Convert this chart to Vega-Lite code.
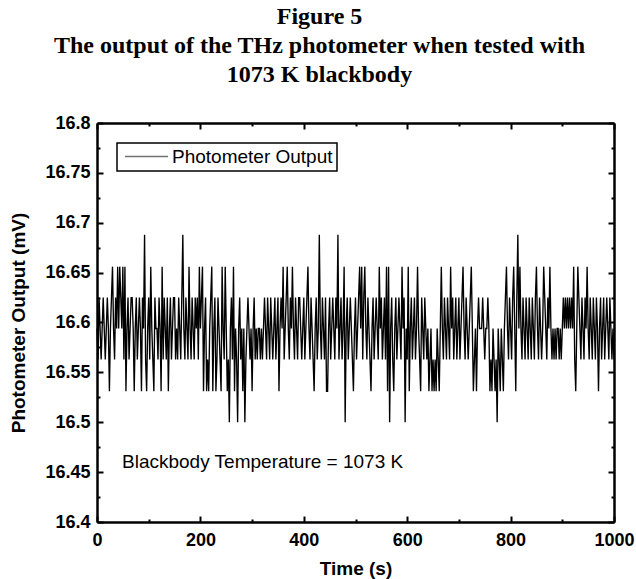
{
"$schema": "https://vega.github.io/schema/vega-lite/v6.json",
"width": 517, "height": 399,
"autosize": "none",
"padding": {"left": 97, "top": 123, "right": 22, "bottom": 57},
"background": "white",
"title": {"text": ["Figure 5", "The output of the THz photometer when tested with", "1073 K blackbody"], "font": "Liberation Serif", "fontSize": 24, "fontWeight": "bold", "lineHeight": 29, "color": "black", "anchor": "middle", "frame": "group", "dx": -36, "baseline": "top", "offset": 27},
"datasets": {
"series": [
{"t":0,"v":16.594},{"t":2,"v":16.563},{"t":4,"v":16.625},{"t":6,"v":16.594},{"t":8,"v":16.563},{"t":10,"v":16.594},{"t":12,"v":16.625},{"t":14,"v":16.594},{"t":16,"v":16.563},{"t":18,"v":16.594},
{"t":20,"v":16.625},{"t":22,"v":16.594},{"t":24,"v":16.531},{"t":26,"v":16.594},{"t":28,"v":16.625},{"t":30,"v":16.656},{"t":32,"v":16.594},{"t":34,"v":16.563},{"t":36,"v":16.625},{"t":38,"v":16.594},
{"t":40,"v":16.656},{"t":42,"v":16.594},{"t":44,"v":16.656},{"t":46,"v":16.625},{"t":48,"v":16.594},{"t":50,"v":16.656},{"t":52,"v":16.563},{"t":54,"v":16.656},{"t":56,"v":16.531},{"t":58,"v":16.594},
{"t":60,"v":16.625},{"t":62,"v":16.563},{"t":64,"v":16.594},{"t":66,"v":16.625},{"t":68,"v":16.625},{"t":70,"v":16.594},{"t":72,"v":16.531},{"t":74,"v":16.594},{"t":76,"v":16.625},{"t":78,"v":16.563},
{"t":80,"v":16.594},{"t":82,"v":16.625},{"t":84,"v":16.594},{"t":86,"v":16.531},{"t":88,"v":16.625},{"t":90,"v":16.594},{"t":92,"v":16.688},{"t":94,"v":16.563},{"t":96,"v":16.531},{"t":98,"v":16.594},
{"t":100,"v":16.625},{"t":102,"v":16.563},{"t":104,"v":16.656},{"t":106,"v":16.594},{"t":108,"v":16.563},{"t":110,"v":16.531},{"t":112,"v":16.625},{"t":114,"v":16.594},{"t":116,"v":16.594},{"t":118,"v":16.563},
{"t":120,"v":16.625},{"t":122,"v":16.594},{"t":124,"v":16.531},{"t":126,"v":16.656},{"t":128,"v":16.563},{"t":130,"v":16.625},{"t":132,"v":16.594},{"t":134,"v":16.563},{"t":136,"v":16.625},{"t":138,"v":16.531},
{"t":140,"v":16.594},{"t":142,"v":16.625},{"t":144,"v":16.563},{"t":146,"v":16.594},{"t":148,"v":16.625},{"t":150,"v":16.625},{"t":152,"v":16.563},{"t":154,"v":16.594},{"t":156,"v":16.563},{"t":158,"v":16.625},
{"t":160,"v":16.594},{"t":162,"v":16.563},{"t":164,"v":16.625},{"t":166,"v":16.688},{"t":168,"v":16.594},{"t":170,"v":16.563},{"t":172,"v":16.625},{"t":174,"v":16.594},{"t":176,"v":16.563},{"t":178,"v":16.656},
{"t":180,"v":16.594},{"t":182,"v":16.563},{"t":184,"v":16.625},{"t":186,"v":16.594},{"t":188,"v":16.563},{"t":190,"v":16.625},{"t":192,"v":16.594},{"t":194,"v":16.625},{"t":196,"v":16.563},{"t":198,"v":16.656},
{"t":200,"v":16.594},{"t":202,"v":16.625},{"t":204,"v":16.656},{"t":206,"v":16.531},{"t":208,"v":16.594},{"t":210,"v":16.625},{"t":212,"v":16.531},{"t":214,"v":16.563},{"t":216,"v":16.531},{"t":218,"v":16.594},
{"t":220,"v":16.625},{"t":222,"v":16.656},{"t":224,"v":16.531},{"t":226,"v":16.594},{"t":228,"v":16.625},{"t":230,"v":16.531},{"t":232,"v":16.563},{"t":234,"v":16.625},{"t":236,"v":16.594},{"t":238,"v":16.563},
{"t":240,"v":16.531},{"t":242,"v":16.656},{"t":244,"v":16.594},{"t":246,"v":16.563},{"t":248,"v":16.656},{"t":250,"v":16.594},{"t":252,"v":16.531},{"t":254,"v":16.563},{"t":256,"v":16.5},{"t":258,"v":16.594},
{"t":260,"v":16.625},{"t":262,"v":16.563},{"t":264,"v":16.656},{"t":266,"v":16.531},{"t":268,"v":16.594},{"t":270,"v":16.563},{"t":272,"v":16.5},{"t":274,"v":16.594},{"t":276,"v":16.625},{"t":278,"v":16.563},
{"t":280,"v":16.594},{"t":282,"v":16.531},{"t":284,"v":16.594},{"t":286,"v":16.5},{"t":288,"v":16.563},{"t":290,"v":16.594},{"t":292,"v":16.625},{"t":294,"v":16.594},{"t":296,"v":16.563},{"t":298,"v":16.594},
{"t":300,"v":16.531},{"t":302,"v":16.594},{"t":304,"v":16.625},{"t":306,"v":16.563},{"t":308,"v":16.594},{"t":310,"v":16.563},{"t":312,"v":16.594},{"t":314,"v":16.594},{"t":316,"v":16.563},{"t":318,"v":16.594},
{"t":320,"v":16.563},{"t":322,"v":16.594},{"t":324,"v":16.625},{"t":326,"v":16.594},{"t":328,"v":16.563},{"t":330,"v":16.625},{"t":332,"v":16.594},{"t":334,"v":16.563},{"t":336,"v":16.625},{"t":338,"v":16.594},
{"t":340,"v":16.563},{"t":342,"v":16.594},{"t":344,"v":16.625},{"t":346,"v":16.563},{"t":348,"v":16.594},{"t":350,"v":16.625},{"t":352,"v":16.531},{"t":354,"v":16.594},{"t":356,"v":16.625},{"t":358,"v":16.594},
{"t":360,"v":16.656},{"t":362,"v":16.563},{"t":364,"v":16.594},{"t":366,"v":16.625},{"t":368,"v":16.656},{"t":370,"v":16.594},{"t":372,"v":16.563},{"t":374,"v":16.625},{"t":376,"v":16.594},{"t":378,"v":16.656},
{"t":380,"v":16.594},{"t":382,"v":16.563},{"t":384,"v":16.625},{"t":386,"v":16.594},{"t":388,"v":16.563},{"t":390,"v":16.625},{"t":392,"v":16.625},{"t":394,"v":16.594},{"t":396,"v":16.563},{"t":398,"v":16.594},
{"t":400,"v":16.625},{"t":402,"v":16.563},{"t":404,"v":16.594},{"t":406,"v":16.625},{"t":408,"v":16.656},{"t":410,"v":16.594},{"t":412,"v":16.563},{"t":414,"v":16.625},{"t":416,"v":16.594},{"t":418,"v":16.563},
{"t":420,"v":16.531},{"t":422,"v":16.594},{"t":424,"v":16.625},{"t":426,"v":16.563},{"t":428,"v":16.594},{"t":430,"v":16.688},{"t":432,"v":16.594},{"t":434,"v":16.563},{"t":436,"v":16.625},{"t":438,"v":16.594},
{"t":440,"v":16.563},{"t":442,"v":16.625},{"t":444,"v":16.531},{"t":446,"v":16.531},{"t":448,"v":16.594},{"t":450,"v":16.625},{"t":452,"v":16.563},{"t":454,"v":16.594},{"t":456,"v":16.625},{"t":458,"v":16.594},
{"t":460,"v":16.563},{"t":462,"v":16.625},{"t":464,"v":16.594},{"t":466,"v":16.688},{"t":468,"v":16.563},{"t":470,"v":16.594},{"t":472,"v":16.625},{"t":474,"v":16.563},{"t":476,"v":16.594},{"t":478,"v":16.656},
{"t":480,"v":16.5},{"t":482,"v":16.594},{"t":484,"v":16.625},{"t":486,"v":16.563},{"t":488,"v":16.594},{"t":490,"v":16.625},{"t":492,"v":16.594},{"t":494,"v":16.563},{"t":496,"v":16.531},{"t":498,"v":16.594},
{"t":500,"v":16.625},{"t":502,"v":16.563},{"t":504,"v":16.594},{"t":506,"v":16.625},{"t":508,"v":16.656},{"t":510,"v":16.594},{"t":512,"v":16.656},{"t":514,"v":16.563},{"t":516,"v":16.625},{"t":518,"v":16.656},
{"t":520,"v":16.594},{"t":522,"v":16.563},{"t":524,"v":16.625},{"t":526,"v":16.594},{"t":528,"v":16.563},{"t":530,"v":16.531},{"t":532,"v":16.594},{"t":534,"v":16.625},{"t":536,"v":16.563},{"t":538,"v":16.594},
{"t":540,"v":16.625},{"t":542,"v":16.594},{"t":544,"v":16.563},{"t":546,"v":16.656},{"t":548,"v":16.594},{"t":550,"v":16.625},{"t":552,"v":16.563},{"t":554,"v":16.594},{"t":556,"v":16.625},{"t":558,"v":16.563},
{"t":560,"v":16.656},{"t":562,"v":16.531},{"t":564,"v":16.656},{"t":566,"v":16.5},{"t":568,"v":16.594},{"t":570,"v":16.625},{"t":572,"v":16.563},{"t":574,"v":16.531},{"t":576,"v":16.594},{"t":578,"v":16.625},
{"t":580,"v":16.563},{"t":582,"v":16.594},{"t":584,"v":16.625},{"t":586,"v":16.594},{"t":588,"v":16.563},{"t":590,"v":16.656},{"t":592,"v":16.594},{"t":594,"v":16.625},{"t":596,"v":16.5},{"t":598,"v":16.594},
{"t":600,"v":16.563},{"t":602,"v":16.656},{"t":604,"v":16.531},{"t":606,"v":16.594},{"t":608,"v":16.625},{"t":610,"v":16.563},{"t":612,"v":16.594},{"t":614,"v":16.625},{"t":616,"v":16.563},{"t":618,"v":16.594},
{"t":620,"v":16.656},{"t":622,"v":16.594},{"t":624,"v":16.563},{"t":626,"v":16.531},{"t":628,"v":16.625},{"t":630,"v":16.594},{"t":632,"v":16.563},{"t":634,"v":16.625},{"t":636,"v":16.594},{"t":638,"v":16.563},
{"t":640,"v":16.594},{"t":642,"v":16.531},{"t":644,"v":16.563},{"t":646,"v":16.594},{"t":648,"v":16.531},{"t":650,"v":16.563},{"t":652,"v":16.531},{"t":654,"v":16.563},{"t":656,"v":16.531},{"t":658,"v":16.594},
{"t":660,"v":16.563},{"t":662,"v":16.531},{"t":664,"v":16.594},{"t":666,"v":16.656},{"t":668,"v":16.594},{"t":670,"v":16.563},{"t":672,"v":16.625},{"t":674,"v":16.594},{"t":676,"v":16.563},{"t":678,"v":16.625},
{"t":680,"v":16.594},{"t":682,"v":16.563},{"t":684,"v":16.656},{"t":686,"v":16.594},{"t":688,"v":16.625},{"t":690,"v":16.563},{"t":692,"v":16.594},{"t":694,"v":16.625},{"t":696,"v":16.563},{"t":698,"v":16.594},
{"t":700,"v":16.625},{"t":702,"v":16.563},{"t":704,"v":16.594},{"t":706,"v":16.625},{"t":708,"v":16.656},{"t":710,"v":16.594},{"t":712,"v":16.563},{"t":714,"v":16.625},{"t":716,"v":16.594},{"t":718,"v":16.563},
{"t":720,"v":16.594},{"t":722,"v":16.625},{"t":724,"v":16.656},{"t":726,"v":16.594},{"t":728,"v":16.531},{"t":730,"v":16.563},{"t":732,"v":16.594},{"t":734,"v":16.531},{"t":736,"v":16.594},{"t":738,"v":16.625},
{"t":740,"v":16.594},{"t":742,"v":16.594},{"t":744,"v":16.594},{"t":746,"v":16.625},{"t":748,"v":16.594},{"t":750,"v":16.563},{"t":752,"v":16.594},{"t":754,"v":16.594},{"t":756,"v":16.625},{"t":758,"v":16.594},
{"t":760,"v":16.531},{"t":762,"v":16.563},{"t":764,"v":16.531},{"t":766,"v":16.594},{"t":768,"v":16.563},{"t":770,"v":16.531},{"t":772,"v":16.563},{"t":774,"v":16.5},{"t":776,"v":16.594},{"t":778,"v":16.563},
{"t":780,"v":16.531},{"t":782,"v":16.594},{"t":784,"v":16.563},{"t":786,"v":16.531},{"t":788,"v":16.594},{"t":790,"v":16.625},{"t":792,"v":16.656},{"t":794,"v":16.594},{"t":796,"v":16.563},{"t":798,"v":16.625},
{"t":800,"v":16.594},{"t":802,"v":16.563},{"t":804,"v":16.625},{"t":806,"v":16.656},{"t":808,"v":16.594},{"t":810,"v":16.531},{"t":812,"v":16.625},{"t":814,"v":16.688},{"t":816,"v":16.594},{"t":818,"v":16.656},
{"t":820,"v":16.594},{"t":822,"v":16.563},{"t":824,"v":16.625},{"t":826,"v":16.594},{"t":828,"v":16.563},{"t":830,"v":16.625},{"t":832,"v":16.594},{"t":834,"v":16.563},{"t":836,"v":16.625},{"t":838,"v":16.594},
{"t":840,"v":16.563},{"t":842,"v":16.625},{"t":844,"v":16.594},{"t":846,"v":16.563},{"t":848,"v":16.625},{"t":850,"v":16.656},{"t":852,"v":16.594},{"t":854,"v":16.563},{"t":856,"v":16.625},{"t":858,"v":16.594},
{"t":860,"v":16.563},{"t":862,"v":16.594},{"t":864,"v":16.656},{"t":866,"v":16.625},{"t":868,"v":16.594},{"t":870,"v":16.563},{"t":872,"v":16.625},{"t":874,"v":16.594},{"t":876,"v":16.656},{"t":878,"v":16.594},
{"t":880,"v":16.563},{"t":882,"v":16.594},{"t":884,"v":16.563},{"t":886,"v":16.594},{"t":888,"v":16.563},{"t":890,"v":16.594},{"t":892,"v":16.594},{"t":894,"v":16.563},{"t":896,"v":16.594},{"t":898,"v":16.563},
{"t":900,"v":16.594},{"t":902,"v":16.625},{"t":904,"v":16.594},{"t":906,"v":16.625},{"t":908,"v":16.594},{"t":910,"v":16.625},{"t":912,"v":16.594},{"t":914,"v":16.625},{"t":916,"v":16.594},{"t":918,"v":16.625},
{"t":920,"v":16.594},{"t":922,"v":16.656},{"t":924,"v":16.563},{"t":926,"v":16.531},{"t":928,"v":16.594},{"t":930,"v":16.656},{"t":932,"v":16.625},{"t":934,"v":16.594},{"t":936,"v":16.563},{"t":938,"v":16.625},
{"t":940,"v":16.594},{"t":942,"v":16.563},{"t":944,"v":16.625},{"t":946,"v":16.594},{"t":948,"v":16.656},{"t":950,"v":16.594},{"t":952,"v":16.563},{"t":954,"v":16.625},{"t":956,"v":16.594},{"t":958,"v":16.563},
{"t":960,"v":16.625},{"t":962,"v":16.594},{"t":964,"v":16.563},{"t":966,"v":16.625},{"t":968,"v":16.594},{"t":970,"v":16.531},{"t":972,"v":16.594},{"t":974,"v":16.625},{"t":976,"v":16.563},{"t":978,"v":16.594},
{"t":980,"v":16.625},{"t":982,"v":16.563},{"t":984,"v":16.594},{"t":986,"v":16.625},{"t":988,"v":16.594},{"t":990,"v":16.563},{"t":992,"v":16.625},{"t":994,"v":16.594},{"t":996,"v":16.563},{"t":998,"v":16.594},
{"t":1000,"v":16.563}
],
"note": [{"t": 48.4, "v": 16.4541, "label": "Blackbody Temperature = 1073 K"}]
},
"config": {
  "view": {"stroke": null},
  "axis": {"grid": false, "domainColor": "black", "domainWidth": 2.5, "tickColor": "black", "tickWidth": 2, "labelOverlap": false, "labelFlush": false, "labelFont": "Liberation Sans", "labelFontSize": 18, "labelFontWeight": "bold", "labelColor": "black", "titleFont": "Liberation Sans", "titleFontSize": 19, "titleFontWeight": "bold", "titleColor": "black"},
  "legend": {"orient": "top-left", "offset": 20, "strokeColor": "black", "strokeWidth": 1.5, "fillColor": "white", "padding": 4, "labelFont": "Liberation Sans", "labelFontSize": 19, "labelColor": "black", "labelLimit": 0, "symbolType": "M-4,0H4", "symbolSize": 116, "symbolOpacity": 0.55, "symbolFillColor": "transparent", "symbolStrokeWidth": 1.5, "symbolOffset": 16, "labelOffset": 16}
},
"layer": [
  {
    "data": {"name": "series"},
    "mark": {"type": "line", "strokeWidth": 1.35},
    "encoding": {
      "x": {"field": "t", "type": "quantitative", "scale": {"domain": [0, 1000], "nice": false, "zero": false},
            "axis": {"orient": "bottom", "title": "Time (s)", "values": [0,100,200,300,400,500,600,700,800,900,1000], "format": "d", "labelExpr": "datum.value % 200 === 0 ? datum.label : ''", "tickSize": {"condition": {"test": "datum.value % 200 === 0", "value": -6}, "value": -3}, "labelPadding": 15, "titlePadding": 7}},
      "y": {"field": "v", "type": "quantitative", "scale": {"domain": [16.4, 16.8], "nice": false, "zero": false},
            "axis": {"orient": "left", "title": "Photometer Output (mV)", "values": [16.4,16.425,16.45,16.475,16.5,16.525,16.55,16.575,16.6,16.625,16.65,16.675,16.7,16.725,16.75,16.775,16.8], "format": "~g", "labelExpr": "abs(datum.value*20 - round(datum.value*20)) < 0.001 ? datum.label : ''", "tickSize": {"condition": {"test": "abs(datum.value*20 - round(datum.value*20)) < 0.001", "value": -6}, "value": -3}, "labelPadding": 13, "titlePadding": 16}},
      "color": {"datum": "Photometer Output", "type": "nominal", "scale": {"range": ["black"]}, "legend": {"title": null}}
    }
  },
  {
    "data": {"name": "note"},
    "mark": {"type": "text", "align": "left", "baseline": "alphabetic", "font": "Liberation Sans", "fontSize": 19, "color": "black"},
    "encoding": {
      "x": {"field": "t", "type": "quantitative", "scale": {"domain": [0, 1000], "nice": false, "zero": false},
            "axis": {"orient": "top", "title": null, "labels": false, "values": [0,100,200,300,400,500,600,700,800,900,1000], "tickSize": {"condition": {"test": "datum.value % 200 === 0", "value": -6}, "value": -3}}},
      "y": {"field": "v", "type": "quantitative", "scale": {"domain": [16.4, 16.8], "nice": false, "zero": false},
            "axis": {"orient": "right", "title": null, "labels": false, "values": [16.4,16.425,16.45,16.475,16.5,16.525,16.55,16.575,16.6,16.625,16.65,16.675,16.7,16.725,16.75,16.775,16.8], "tickSize": {"condition": {"test": "abs(datum.value*20 - round(datum.value*20)) < 0.001", "value": -6}, "value": -3}}},
      "text": {"field": "label"}
    }
  }
],
"resolve": {"scale": {"x": "independent", "y": "independent"}, "axis": {"x": "independent", "y": "independent"}}
}
